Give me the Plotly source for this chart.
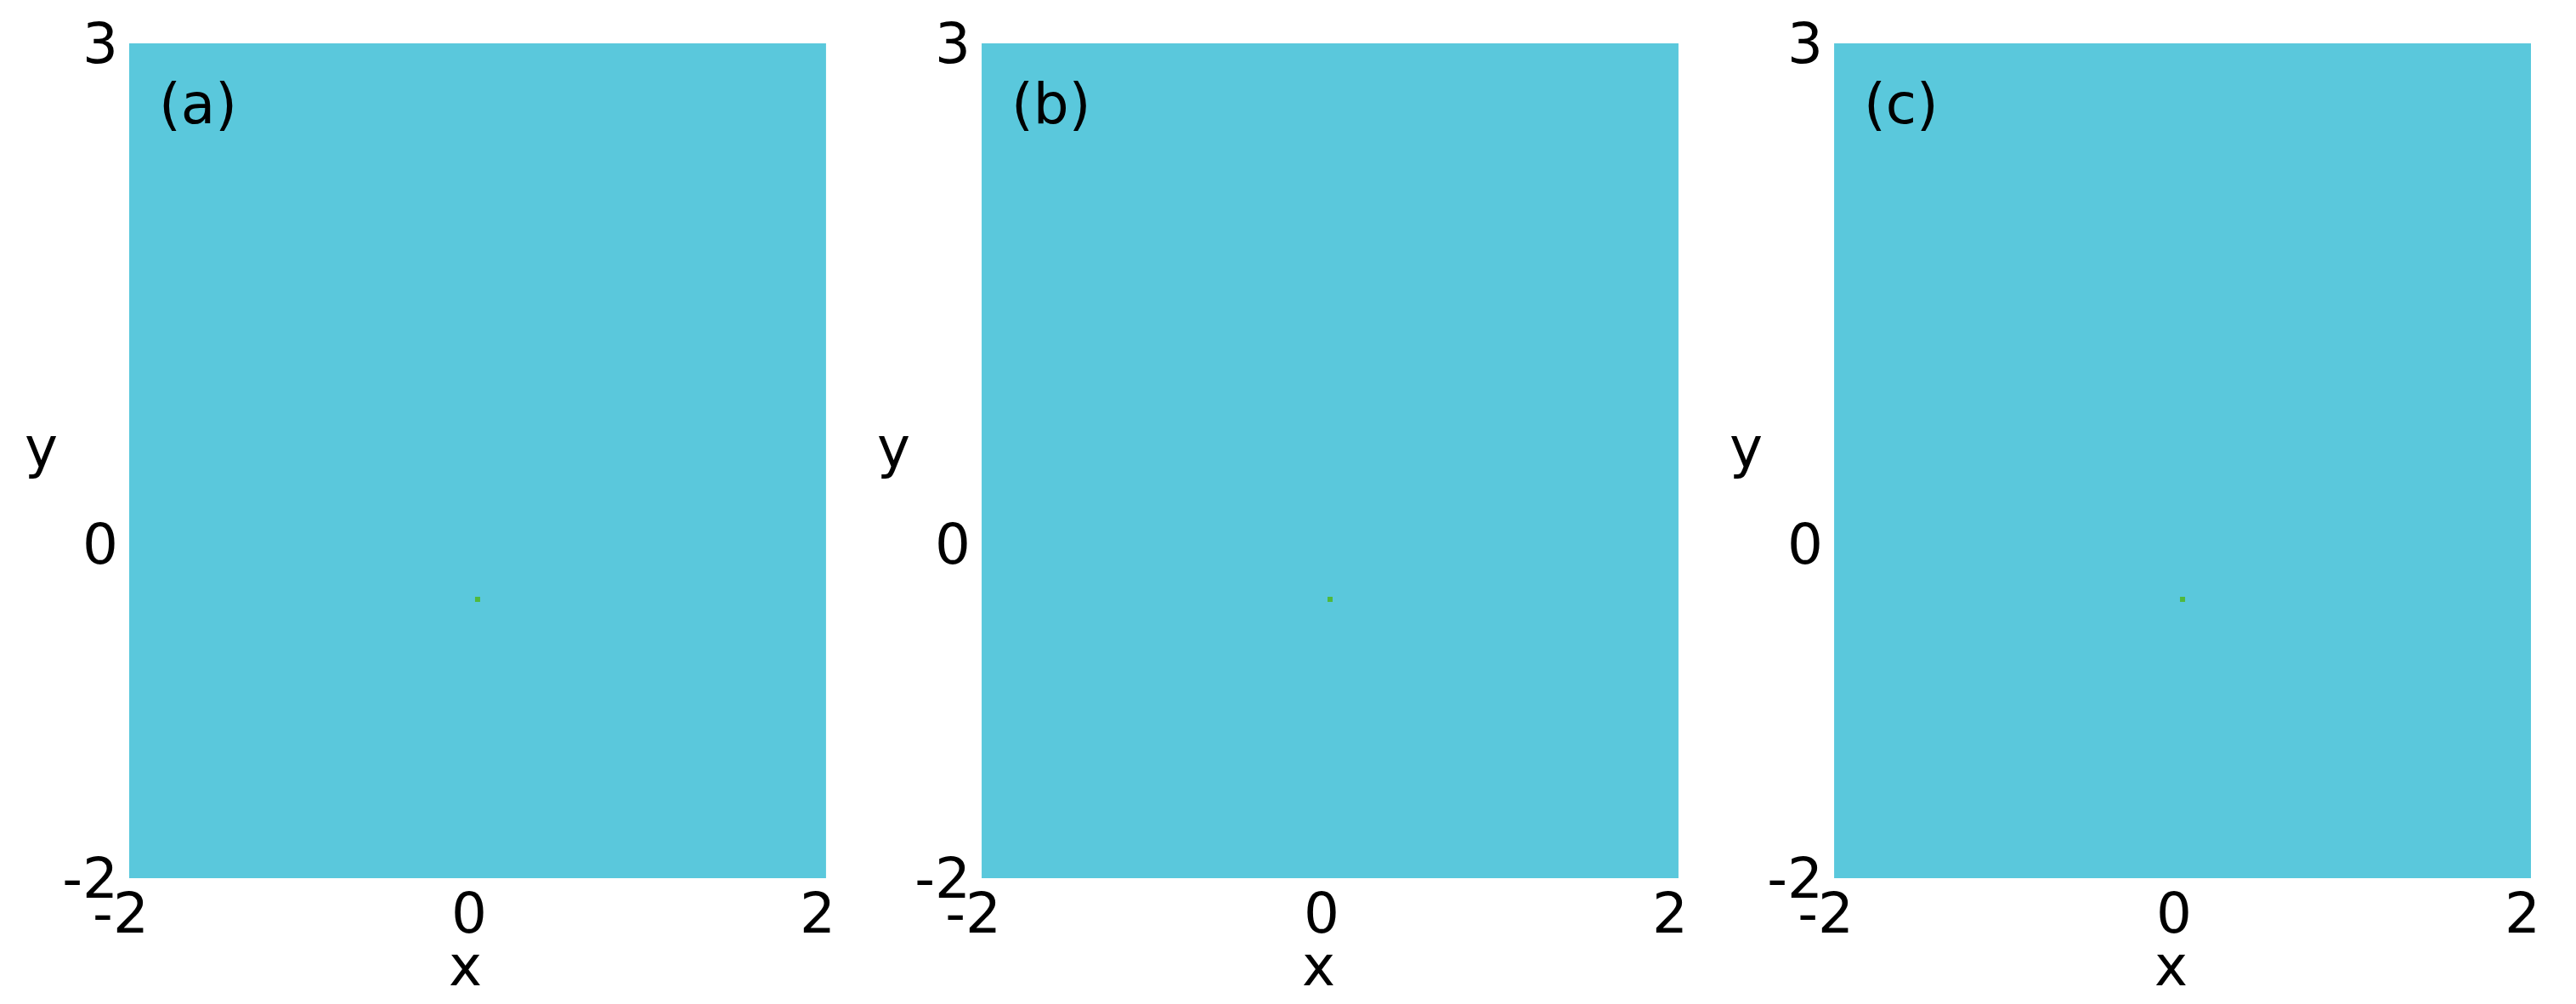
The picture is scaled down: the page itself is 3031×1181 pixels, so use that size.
import plotly.graph_objects as go
from plotly.subplots import make_subplots

# panel labels
panels = ["(a)", "(b)", "(c)"]

# region covered by the filled area (same in every panel)
x_region = [-2, 2]
y_region = [-2, 3]

# the single point in each panel
x_point = [0.0, 0.0, 0.0]
y_point = [-0.33, -0.33, -0.33]

# ticks
x_ticks = [-2, 0, 2]
y_ticks = [-2, 0, 3]

FONT = "DejaVu Sans"
FSIZE = 66
CYAN = "rgb(90,200,220)"
GREEN = "rgb(80,185,60)"

fig = make_subplots(rows=1, cols=3, horizontal_spacing=0.0648)

for i, lab in enumerate(panels):
    col = i + 1
    # filled region, corners built from the region bounds
    xs = [x_region[0], x_region[1], x_region[1], x_region[0], x_region[0]]
    ys = [y_region[0], y_region[0], y_region[1], y_region[1], y_region[0]]
    fig.add_trace(go.Scatter(x=xs, y=ys, mode="lines", fill="toself",
                             fillcolor=CYAN, line=dict(width=0),
                             showlegend=False, hoverinfo="skip"),
                  row=1, col=col)
    fig.add_trace(go.Scatter(x=[x_point[i]], y=[y_point[i]], mode="markers",
                             marker=dict(symbol="square", size=6, color=GREEN),
                             showlegend=False),
                  row=1, col=col)
    fig.update_xaxes(range=x_region, tickvals=x_ticks, ticktext=[str(v) for v in x_ticks],
                     showgrid=False, zeroline=False, showline=False, ticks="",
                     automargin=False, ticklabelstandoff=-3, ticklabelshift=-10,
                     ticklabeloverflow="allow",
                     row=1, col=col)
    fig.update_yaxes(range=y_region, tickvals=y_ticks, ticktext=[str(v) for v in y_ticks],
                     showgrid=False, zeroline=False, showline=False, ticks="",
                     automargin=False, ticklabelstandoff=12,
                     ticklabeloverflow="allow",
                     row=1, col=col)
    xr = "x domain" if col == 1 else "x%d domain" % col
    yr = "y domain" if col == 1 else "y%d domain" % col
    fig.add_annotation(text=lab, xref=xr, yref=yr, x=0.04, y=0.927,
                       xanchor="left", yanchor="middle", showarrow=False,
                       font=dict(size=FSIZE, family=FONT, color="black"))
    # axis titles as annotations (y is written horizontally)
    fig.add_annotation(text="y", xref=xr, yref=yr, x=0, y=0.516, xshift=-104,
                       xanchor="center", yanchor="middle", showarrow=False,
                       font=dict(size=FSIZE, family=FONT, color="black"))
    fig.add_annotation(text="x", xref=xr, yref=yr, x=0.5, y=-0.105, xshift=-14,
                       xanchor="center", yanchor="middle", showarrow=False,
                       font=dict(size=FSIZE, family=FONT, color="black"))

# page body adds an 8px offset, so margins are shifted to compensate
fig.update_layout(width=3031, height=1181, template="plotly_white",
                  plot_bgcolor="white", paper_bgcolor="white",
                  margin=dict(l=144, r=61, t=43, b=156),
                  font=dict(family=FONT, size=FSIZE, color="black"))

fig.write_html("out.html")
